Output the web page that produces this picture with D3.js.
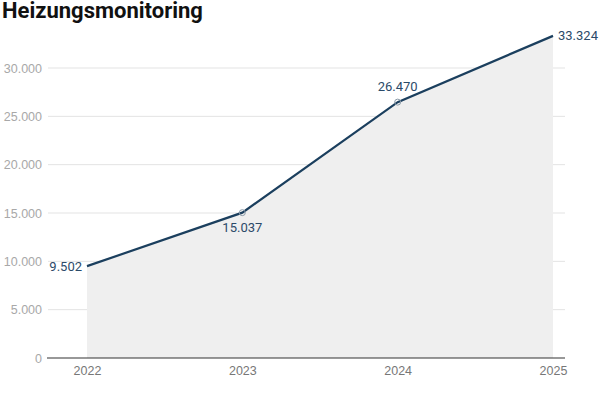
<!DOCTYPE html>
<html lang="de">
<head>
<meta charset="UTF-8" />
<title>Heizungsmonitoring</title>
<script src="https://d3js.org/d3.v7.min.js"></script>
<style>
  body { margin: 0; background: #fff; font-family: Roboto, sans-serif; }
  .grid line { stroke: #e3e3e3; }
  .y-axis text { fill: #a8a8a8; font-size: 12.5px; }
  .x-axis text { fill: #777; font-size: 12.5px; }
  .lbl { fill: #2b4a69; font-size: 13px; }
</style>
</head>
<body>
<script>
  // Data
  const years  = [2022, 2023, 2024, 2025];
  const values = [9502, 15037, 26470, 33324];
  const yTicks = [0, 5000, 10000, 15000, 20000, 25000, 30000];
  // where the value label sits relative to its point
  const labelPos = ["left", "below", "above", "right"];

  const W = 600, H = 400;
  const fmt = d3.format(",");
  const de = v => fmt(v).replace(/,/g, ".");

  const svg = d3.select("body").append("svg")
    .attr("width", W).attr("height", H);

  svg.append("text")
    .attr("x", 2).attr("y", 18)
    .style("font-size", "22px").style("font-weight", "bold").style("fill", "#111")
    .text("Heizungsmonitoring");

  const x = d3.scalePoint().domain(years).range([87, 553]);
  const y = d3.scaleLinear().domain([0, 30000]).range([358, 68]);

  // gridlines
  svg.append("g").attr("class", "grid")
    .selectAll("line").data(yTicks.filter(t => t > 0)).enter().append("line")
      .attr("x1", 48).attr("x2", 565)
      .attr("y1", d => y(d)).attr("y2", d => y(d));

  // area
  const pts = years.map((yr, i) => ({ yr, v: values[i], pos: labelPos[i] }));
  svg.append("path").datum(pts)
    .attr("fill", "#efefef")
    .attr("d", d3.area().x(d => x(d.yr)).y0(y(0)).y1(d => y(d.v)));

  // y axis labels
  const yAxis = svg.append("g").attr("class", "y-axis")
    .attr("transform", "translate(42,0)")
    .call(d3.axisLeft(y).tickValues(yTicks).tickFormat(de).tickSize(0).tickPadding(0));
  yAxis.select(".domain").remove();

  // x axis
  const xAxis = svg.append("g").attr("class", "x-axis")
    .attr("transform", `translate(0,${y(0)})`)
    .call(d3.axisBottom(x).tickSize(0).tickPadding(8));
  xAxis.select(".domain").remove();
  svg.append("line")
    .attr("x1", 47).attr("x2", 565)
    .attr("y1", y(0)).attr("y2", y(0))
    .attr("stroke", "#333").attr("stroke-width", 1.2);

  // line
  svg.append("path").datum(pts)
    .attr("fill", "none").attr("stroke", "#1b3f5e").attr("stroke-width", 2.2)
    .attr("d", d3.line().x(d => x(d.yr)).y(d => y(d.v)));

  // hollow markers for the inner points
  svg.selectAll(".dot").data(pts.slice(1, 3)).enter().append("circle")
    .attr("cx", d => x(d.yr)).attr("cy", d => y(d.v)).attr("r", 3)
    .attr("fill", "none").attr("stroke", "#8a9aa8").attr("stroke-width", 1);

  // value labels
  svg.selectAll(".lbl").data(pts).enter().append("text")
    .attr("class", "lbl")
    .attr("x", d => x(d.yr) + (d.pos === "left" ? -5 : d.pos === "right" ? 5 : 0))
    .attr("y", d => y(d.v) + (d.pos === "below" ? 15 : d.pos === "above" ? -16 : 0))
    .attr("dy", "0.35em")
    .attr("text-anchor", d => d.pos === "left" ? "end" : d.pos === "right" ? "start" : "middle")
    .text(d => de(d.v));
</script>
</body>
</html>
